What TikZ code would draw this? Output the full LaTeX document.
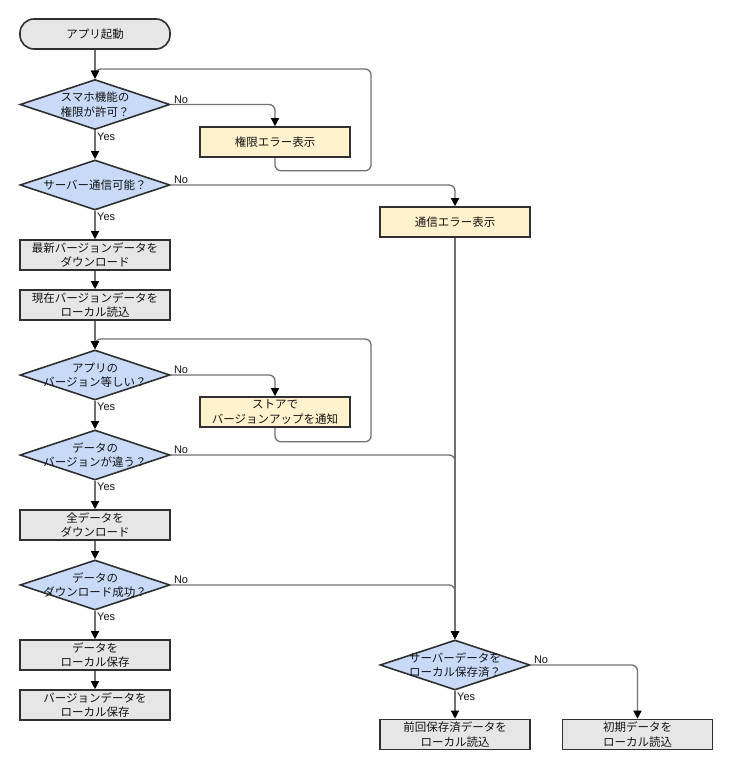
\documentclass[tikz,border=0pt]{standalone}
\usepackage{fontspec}
\setmainfont{Noto Sans CJK JP}
\newfontfamily\latinfont{Liberation Sans}
\usetikzlibrary{shapes.geometric,arrows.meta}
\definecolor{boxgray}{HTML}{E6E6E6}
\definecolor{boxyellow}{HTML}{FFF2CC}
\definecolor{diablue}{HTML}{C9DAF8}
\definecolor{edgegray}{HTML}{707070}
\definecolor{bordergray}{HTML}{303030}
\begin{document}
\begin{tikzpicture}[x=1pt,y=-1pt,
  every node/.style={font=\fontsize{11.5}{14.5}\selectfont, text=black!92},
  base/.style={draw=bordergray, line width=1.6pt, inner sep=0pt, align=center},
  term/.style={base, fill=boxgray, rounded corners=14pt, minimum width=150pt, minimum height=30pt},
  proc/.style={base, fill=boxgray, minimum width=150pt, minimum height=30pt},
  errbox/.style={base, fill=boxyellow, minimum width=150pt, minimum height=30pt},
  dia/.style={base, diamond, fill=diablue, minimum width=150pt, minimum height=50pt},
  diatext/.style={inner sep=0pt, align=center},
  conn/.style={draw=edgegray, line width=1.3pt, rounded corners=6pt, -{Triangle[length=8pt,width=8pt,color=black]}},
  yes/.style={font=\latinfont\fontsize{11}{12}\selectfont, inner sep=0pt, anchor=north west},
  no/.style={font=\latinfont\fontsize{11}{12}\selectfont, inner sep=0pt, anchor=south west}
]
\useasboundingbox (0,0) rectangle (732,770);

% nodes
\node[term] (start) at (95,34) {アプリ起動};
\node[dia] (d1) at (95,104.5) {};
\node[diatext] (d1t) at (d1) {スマホ機能の\\権限が許可？};
\node[errbox] (e1) at (275,142) {権限エラー表示};
\node[dia] (d2) at (95,185) {};
\node[diatext] (d2t) at (d2) {サーバー通信可能？};
\node[errbox] (e2) at (455,222) {通信エラー表示};
\node[proc] (b1) at (95,255) {最新バージョンデータを\\ダウンロード};
\node[proc] (b2) at (95,305) {現在バージョンデータを\\ローカル読込};
\node[dia] (d3) at (95,375) {};
\node[diatext] (d3t) at (d3) {アプリの\\バージョン等しい？};
\node[errbox] (e3) at (275,412) {ストアで\\バージョンアップを通知};
\node[dia] (d4) at (95,455) {};
\node[diatext] (d4t) at (d4) {データの\\バージョンが違う？};
\node[proc] (b3) at (95,525) {全データを\\ダウンロード};
\node[dia] (d5) at (95,585) {};
\node[diatext] (d5t) at (d5) {データの\\ダウンロード成功？};
\node[proc] (b4) at (95,655) {データを\\ローカル保存};
\node[proc] (b5) at (95,705) {バージョンデータを\\ローカル保存};
\node[dia] (d6) at (455,665) {};
\node[diatext] (d6t) at (d6) {サーバーデータを\\ローカル保存済？};
\node[proc] (b6) at (455,734.5) {前回保存済データを\\ローカル読込};
\node[proc] (b7) at (637.5,734.5) {初期データを\\ローカル読込};

\coordinate (l1) at (371,69);
\coordinate (l2) at (371,339);

% connectors
\draw[conn] (start) -- (d1);
\draw[conn] (d1.east) -| (e1.north);
\draw[conn] (e1.south) -- ++(0,13) -| (l1) -| (d1.north);
\draw[conn] (d1) -- (d2);
\draw[conn] (d2.east) -| (e2.north);
\draw[conn] (d2) -- (b1);
\draw[conn] (b1) -- (b2);
\draw[conn] (b2) -- (d3);
\draw[conn] (d3.east) -| (e3.north);
\draw[conn] (e3.south) -- ++(0,14) -| (l2) -| (d3.north);
\draw[conn] (d3) -- (d4);
\draw[conn] (e2.south) -- (d6.north);
\draw[conn] (d4.east) -| (d6.north);
\draw[conn] (d4) -- (b3);
\draw[conn] (b3) -- (d5);
\draw[conn] (d5.east) -| (d6.north);
\draw[conn] (d5) -- (b4);
\draw[conn] (b4) -- (b5);
\draw[conn] (d6) -- (b6);
\draw[conn] (d6.east) -| (b7.north);

% labels
\node[no] (n1) at ([xshift=3pt,yshift=1pt]d1.east) {No};
\node[yes] (y1) at ([xshift=2pt,yshift=-2pt]d1.south) {Yes};
\node[no] (n2) at ([xshift=3pt,yshift=1pt]d2.east) {No};
\node[yes] (y2) at ([xshift=2pt,yshift=-2pt]d2.south) {Yes};
\node[no] (n3) at ([xshift=3pt,yshift=1pt]d3.east) {No};
\node[yes] (y3) at ([xshift=2pt,yshift=-2pt]d3.south) {Yes};
\node[no] (n4) at ([xshift=3pt,yshift=1pt]d4.east) {No};
\node[yes] (y4) at ([xshift=2pt,yshift=-2pt]d4.south) {Yes};
\node[no] (n5) at ([xshift=3pt,yshift=1pt]d5.east) {No};
\node[yes] (y5) at ([xshift=2pt,yshift=-2pt]d5.south) {Yes};
\node[no] (n6) at ([xshift=3pt,yshift=1pt]d6.east) {No};
\node[yes] (y6) at ([xshift=2pt,yshift=-2pt]d6.south) {Yes};
\end{tikzpicture}
\end{document}
